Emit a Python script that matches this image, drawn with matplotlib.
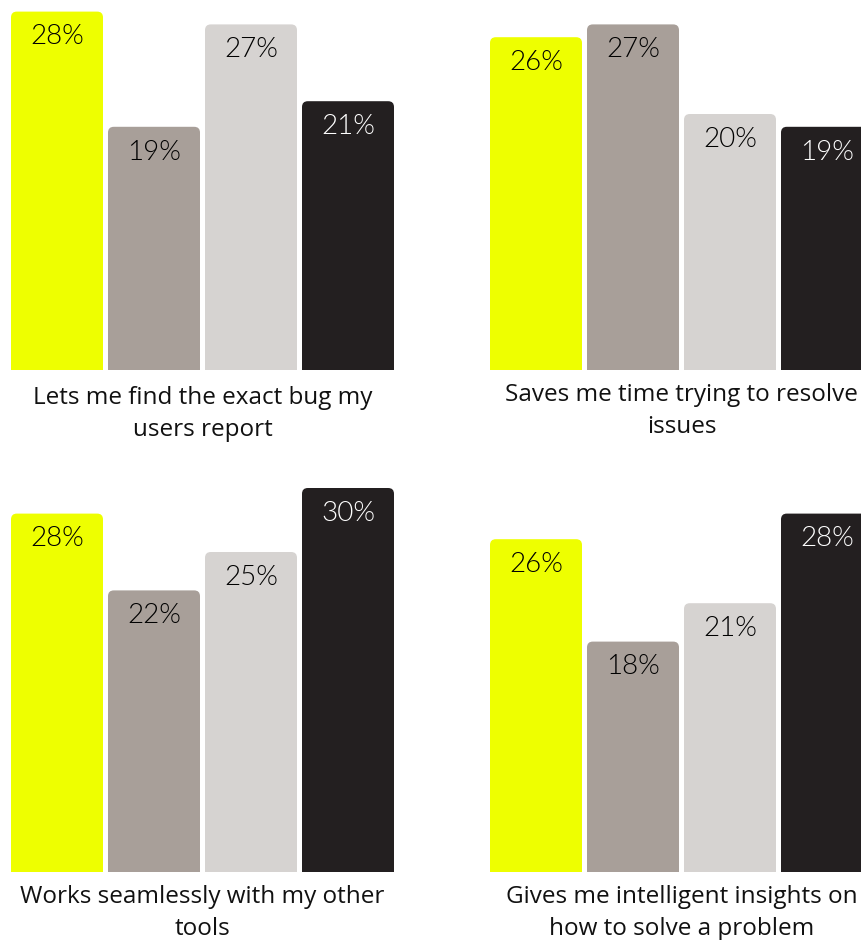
import matplotlib.pyplot as plt
from matplotlib.patches import FancyBboxPatch

# survey results, one panel per statement
captions = [
    "Lets me find the exact bug my\nusers report",
    "Saves me time trying to resolve\nissues",
    "Works seamlessly with my other\ntools",
    "Gives me intelligent insights on\nhow to solve a problem",
]
find_bug = [28, 19, 27, 21]
saves_time = [26, 27, 20, 19]
works_seamlessly = [28, 22, 25, 30]
insights = [26, 18, 21, 28]
panel_values = [find_bug, saves_time, works_seamlessly, insights]

colors = ["#EEFF00", "#A89F99", "#D6D3D1", "#231F20"]
text_colors = ["black", "black", "black", "white"]

W, H = 862, 940
fig = plt.figure(figsize=(W / 100, H / 100), dpi=100)

px_per_unit = 12.8   # vertical pixels per percent
pitch = 97           # horizontal pixels per bar slot
bar_w = 92 / pitch

# (left px, baseline px, axes height px, caption center y px)
panels = [
    (11, 370, 370, 414),
    (490, 370, 370, 411),
    (11, 872, 402, 913),
    (490, 872, 402, 913),
]

for (left, base, hpx, cap_y), vals, cap in zip(panels, panel_values, captions):
    wpx = 4 * pitch - (pitch - 92)
    ax = fig.add_axes([left / W, (H - base) / H, wpx / W, hpx / H])
    ax.set_xlim(-bar_w / 2, 3 + bar_w / 2)
    ax.set_ylim(0, hpx / px_per_unit)
    ax.axis("off")
    aspect = pitch / px_per_unit
    for i, v in enumerate(vals):
        box = FancyBboxPatch((i - bar_w / 2, -3), bar_w, v + 3,
                             boxstyle="round,pad=0,rounding_size=0.06",
                             mutation_aspect=aspect,
                             facecolor=colors[i], edgecolor="none")
        ax.add_patch(box)
        ax.text(i, v - 1.0, f"{v}%", ha="center", va="top",
                fontsize=20, color=text_colors[i], family="Lato",
                fontweight=300)
    fig.text((left + wpx / 2) / W, 1 - cap_y / H, cap, ha="center",
             va="center", fontsize=17.5, linespacing=1.42,
             color="#111111", family="Open Sans")

fig.savefig("out.png", dpi=100, facecolor="white")
